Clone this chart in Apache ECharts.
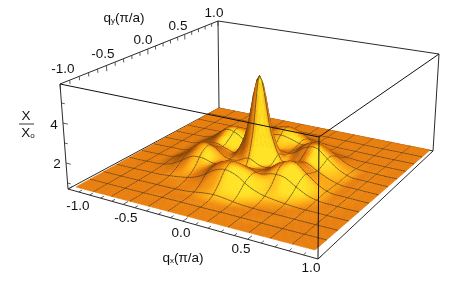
<!DOCTYPE html>
<html><head><meta charset="utf-8">
<style>html,body{margin:0;padding:0;background:#fff}#c{width:463px;height:282px}</style>
<script src="https://cdn.jsdelivr.net/npm/echarts@6/dist/echarts.min.js"></script>
</head><body><div id="c"></div>
<script>
// ---- data ----
const qValues = [-1,-0.9,-0.8,-0.7,-0.6,-0.5,-0.4,-0.3,-0.2,-0.1,0,0.1,0.2,0.3,0.4,0.5,0.6,0.7,0.8,0.9,1];
// chi/chi0, one row per qy (from -1 to 1), one column per qx (from -1 to 1)
const chiRows = [
[1,1,1,1,1,1,1,1,1,1,1,1,1,1,1,1,1,1,1,1,1],
[1,1,1,1,1,1,1,1.01,1.01,1.01,1.01,1.01,1.01,1.01,1,1,1,1,1,1,1],
[1,1,1,1,1,1.01,1.02,1.02,1.03,1.03,1.03,1.03,1.03,1.02,1.02,1.01,1,1,1,1,1],
[1,1,1,1,1.01,1.02,1.02,1.03,1.05,1.10,1.12,1.10,1.05,1.03,1.02,1.02,1.01,1,1,1,1],
[1,1,1,1.01,1.02,1.02,1.04,1.08,1.20,1.38,1.50,1.38,1.20,1.08,1.04,1.02,1.02,1.01,1,1,1],
[1,1,1.01,1.02,1.03,1.08,1.15,1.26,1.50,1.88,2.05,1.88,1.50,1.26,1.15,1.08,1.03,1.02,1.01,1,1],
[1,1,1.02,1.03,1.10,1.28,1.48,1.52,1.68,2.06,2.22,2.06,1.68,1.52,1.48,1.28,1.10,1.03,1.02,1,1],
[1,1,1.02,1.05,1.22,1.58,1.98,2.00,1.72,1.78,1.88,1.78,1.72,2.00,1.98,1.58,1.22,1.05,1.02,1,1],
[1,1.01,1.03,1.06,1.30,1.76,2.22,2.12,1.68,1.55,1.58,1.55,1.68,2.12,2.22,1.76,1.30,1.06,1.03,1.01,1],
[1,1.01,1.03,1.05,1.26,1.62,2.00,1.82,1.58,2.00,3.00,2.00,1.58,1.82,2.00,1.62,1.26,1.05,1.03,1.01,1],
[1,1.01,1.03,1.05,1.22,1.50,1.80,1.62,1.60,3.00,5.80,3.00,1.60,1.62,1.80,1.50,1.22,1.05,1.03,1.01,1],
[1,1.01,1.03,1.05,1.26,1.62,2.00,1.82,1.58,2.00,3.00,2.00,1.58,1.82,2.00,1.62,1.26,1.05,1.03,1.01,1],
[1,1.01,1.03,1.06,1.30,1.76,2.22,2.12,1.68,1.55,1.58,1.55,1.68,2.12,2.22,1.76,1.30,1.06,1.03,1.01,1],
[1,1,1.02,1.05,1.22,1.58,1.98,2.00,1.72,1.78,1.88,1.78,1.72,2.00,1.98,1.58,1.22,1.05,1.02,1,1],
[1,1,1.02,1.03,1.10,1.28,1.48,1.52,1.68,2.06,2.22,2.06,1.68,1.52,1.48,1.28,1.10,1.03,1.02,1,1],
[1,1,1.01,1.02,1.03,1.08,1.15,1.26,1.50,1.88,2.05,1.88,1.50,1.26,1.15,1.08,1.03,1.02,1.01,1,1],
[1,1,1,1.01,1.02,1.02,1.04,1.08,1.20,1.38,1.50,1.38,1.20,1.08,1.04,1.02,1.02,1.01,1,1,1],
[1,1,1,1,1.01,1.02,1.02,1.03,1.05,1.10,1.12,1.10,1.05,1.03,1.02,1.02,1.01,1,1,1,1],
[1,1,1,1,1,1.01,1.02,1.02,1.03,1.03,1.03,1.03,1.03,1.02,1.02,1.01,1,1,1,1,1],
[1,1,1,1,1,1,1,1.01,1.01,1.01,1.01,1.01,1.01,1.01,1,1,1,1,1,1,1],
[1,1,1,1,1,1,1,1,1,1,1,1,1,1,1,1,1,1,1,1,1]
];
const xTickLabels = ['-1.0','-0.5','0.0','0.5','1.0'];
const yTickLabels = ['-1.0','-0.5','0.0','0.5','1.0'];
const zTickLabels = ['2','4'];
const minorTicks = [-1,-0.9,-0.8,-0.7,-0.6,-0.5,-0.4,-0.3,-0.2,-0.1,0,0.1,0.2,0.3,0.4,0.5,0.6,0.7,0.8,0.9,1];
const zTicks = [1,2,3,4,5];

// ---- view calibration (corners run qx,qy = -1,-1 ; 1,-1 ; 1,1 ; -1,1) ----
const floorCorners = [[68,189],[318,259],[433,151],[219,108]];
const topCorners = [[60,84],[319,137],[439,54],[218,21]];
const sheetCorners = [[76,187],[315,250],[430,150],[219,108]];
const zBottom = 0.7, zTop = 5.95, zSheet = 1;
const meshCells = 12, cellSteps = 8;

function homography(c){
  const [x0,y0]=c[0],[x1,y1]=c[1],[x2,y2]=c[2],[x3,y3]=c[3];
  const dx1=x1-x2,dx2=x3-x2,sx=x0-x1+x2-x3,dy1=y1-y2,dy2=y3-y2,sy=y0-y1+y2-y3;
  const den=dx1*dy2-dx2*dy1,g=(sx*dy2-dx2*sy)/den,h=(dx1*sy-sx*dy1)/den;
  const a=x1-x0+g*x1,b=x3-x0+h*x3,d=y1-y0+g*y1,e=y3-y0+h*y3;
  return (qx,qy)=>{const u=(qx+1)/2,v=(qy+1)/2,w=g*u+h*v+1;return [(a*u+b*v+x0)/w,(d*u+e*v+y0)/w];};
}
const H0=homography(floorCorners),H1=homography(topCorners),HS=homography(sheetCorners);
function boxPoint(qx,qy,z){
  const a=H0(qx,qy),b=H1(qx,qy),t=(z-zBottom)/(zTop-zBottom);
  return [a[0]+(b[0]-a[0])*t,a[1]+(b[1]-a[1])*t];
}
function sheetPoint(qx,qy,z){
  const a=H0(qx,qy),b=H1(qx,qy),s=HS(qx,qy),t=(z-zSheet)/(zTop-zBottom);
  return [s[0]+(b[0]-a[0])*t,s[1]+(b[1]-a[1])*t];
}
// smooth surface through the table (Catmull-Rom)
function cr(p0,p1,p2,p3,t){return 0.5*(2*p1+(p2-p0)*t+(2*p0-5*p1+4*p2-p3)*t*t+(3*p1-p0-3*p2+p3)*t*t*t);}
const n=qValues.length;
function cell(i,j){return chiRows[Math.max(0,Math.min(n-1,j))][Math.max(0,Math.min(n-1,i))];}
function chiAt(qx,qy){
  const fx=(qx+1)*(n-1)/2,fy=(qy+1)*(n-1)/2;
  const i=Math.max(0,Math.min(n-2,Math.floor(fx))),j=Math.max(0,Math.min(n-2,Math.floor(fy))),tx=fx-i,ty=fy-j;
  const r=[];
  for(let k=-1;k<=2;k++) r.push(cr(cell(i-1,j+k),cell(i,j+k),cell(i+1,j+k),cell(i+2,j+k),tx));
  return cr(r[0],r[1],r[2],r[3],ty);
}
const light=[0.6,-0.6,0.53], slopeScale=0.2;
const ramp=[[0,[125,68,10]],[0.28,[185,98,10]],[0.53,[232,126,14]],[0.74,[255,176,20]],[0.92,[255,226,36]]];
function shade(qx,qy){
  const h=0.02;
  const sx=(chiAt(qx+h,qy)-chiAt(qx-h,qy))/(2*h)*slopeScale;
  const sy=(chiAt(qx,qy+h)-chiAt(qx,qy-h))/(2*h)*slopeScale;
  const l=Math.sqrt(sx*sx+sy*sy+1);
  const t=Math.max(0,(-sx*light[0]-sy*light[1]+light[2])/l);
  for(let k=1;k<ramp.length;k++){
    if(t<=ramp[k][0]){
      const a=ramp[k-1],b=ramp[k],f=(t-a[0])/(b[0]-a[0]);
      return 'rgb('+a[1].map((v,m)=>Math.round(v+(b[1][m]-v)*f)).join(',')+')';
    }
  }
  return 'rgb('+ramp[ramp.length-1][1].join(',')+')';
}
// surface quads, painted from the far corner to the near one
const steps=meshCells*cellSteps, q=k=>-1+2*k/steps;
const pts=[];
for(let j=0;j<=steps;j++){const row=[];for(let i=0;i<=steps;i++){row.push(sheetPoint(q(i),q(j),chiAt(q(i),q(j))));}pts.push(row);}
const surfaceData=[];
for(let j=steps-1;j>=0;j--)for(let i=0;i<steps;i++)surfaceData.push([i,j]);
const meshStyle={stroke:'rgba(52,42,32,0.8)',lineWidth:0.8};
function renderQuad(params,api){
  const i=api.value(0),j=api.value(1);
  const poly=[pts[j][i],pts[j][i+1],pts[j+1][i+1],pts[j+1][i]];
  const col=shade(q(i+0.5),q(j+0.5));
  const children=[{type:'polygon',shape:{points:poly},style:{fill:col,stroke:col,lineWidth:0.6}}];
  if(i%cellSteps===0&&i>0)children.push({type:'line',shape:{x1:poly[0][0],y1:poly[0][1],x2:poly[3][0],y2:poly[3][1]},style:meshStyle});
  if((j+1)%cellSteps===0&&j+1<steps)children.push({type:'line',shape:{x1:poly[3][0],y1:poly[3][1],x2:poly[2][0],y2:poly[2][1]},style:meshStyle});
  return {type:'group',children};
}
function segSeries(name,segs,stroke,w){
  return {type:'custom',name,coordinateSystem:'none',silent:true,animation:false,progressive:0,
    data:segs.map((s,k)=>[k]),
    renderItem:(p,api)=>{const s=segs[api.value(0)];
      return {type:'line',shape:{x1:s[0][0],y1:s[0][1],x2:s[1][0],y2:s[1][1]},style:{stroke,lineWidth:w}};}};
}
const F=floorCorners,T=topCorners;
const backEdges=[[F[0],F[3]],[F[3],F[2]],[T[0],T[3]],[T[3],T[2]],[F[3],T[3]],[F[0],T[0]],[F[2],T[2]],[F[0],F[1]],[F[1],F[2]]];
const frontEdges=[[T[0],T[1]],[T[1],T[2]],[F[1],T[1]]];
const ticks=[];
minorTicks.forEach((t)=>{
  const major=Math.abs(t*2-Math.round(t*2))<1e-6;
  ticks.push([boxPoint(t,-1,zBottom),boxPoint(t,major?-0.945:-0.965,zBottom)]);
  ticks.push([boxPoint(-1,t,zTop),boxPoint(-1,t,zTop-(major?0.3:0.2))]);
});
zTicks.forEach(z=>{ticks.push([boxPoint(-1,-1,z),boxPoint(z%2===0?-0.955:-0.97,-1,z)]);});

const base={fontFamily:'"Liberation Sans",Arial,sans-serif',fontSize:13.5,fill:'#111'};
const xLabelPos=[[78,206],[126,218],[181,233],[241,249],[311,268]];
const yLabelPos=[[63,69],[103,54],[143,40],[178,26],[214,13]];
const zLabelPos=[[57,164],[54,125]];
const rich={q:{fontFamily:base.fontFamily,fontSize:13.5,fill:'#111'},s:{fontFamily:base.fontFamily,fontSize:8,fill:'#111',verticalAlign:'bottom',padding:[5,0,0,0]}};
const textItems=[];
xTickLabels.forEach((s,k)=>textItems.push({s,p:xLabelPos[k]}));
yTickLabels.forEach((s,k)=>textItems.push({s,p:yLabelPos[k]}));
zTickLabels.forEach((s,k)=>textItems.push({s,p:zLabelPos[k]}));
textItems.push({s:'{q|q}{s|x}{q|(π/a)}',p:[183,258],rich:true});
textItems.push({s:'{q|q}{s|y}{q|(π/a)}',p:[124,18],rich:true});
textItems.push({s:'X',p:[26,116]});
textItems.push({s:'{q|X}{s|o}',p:[28,133],rich:true});

const chart=echarts.init(document.getElementById('c'),null,{renderer:'canvas',width:463,height:282});
chart.setOption({
  animation:false,backgroundColor:'#fff',
  series:[
    segSeries('box back',backEdges,'#2a2a2a',1),
    segSeries('ticks',ticks,'#333',0.8),
    {type:'custom',name:'chi',coordinateSystem:'none',silent:true,animation:false,progressive:0,
      data:surfaceData,renderItem:renderQuad},
    segSeries('box front',frontEdges,'#111',1),
    segSeries('fraction',[[[19,124],[34,124]]],'#222',0.9),
    {type:'custom',name:'labels',coordinateSystem:'none',silent:true,animation:false,progressive:0,
      data:textItems.map((t,k)=>[k]),
      renderItem:(p,api)=>{const t=textItems[api.value(0)];
        const style=Object.assign({},base,{text:t.s,x:t.p[0],y:t.p[1],align:'center',verticalAlign:'middle'});
        if(t.rich)style.rich=rich;
        return {type:'text',style};}}
  ]
});
</script></body></html>
